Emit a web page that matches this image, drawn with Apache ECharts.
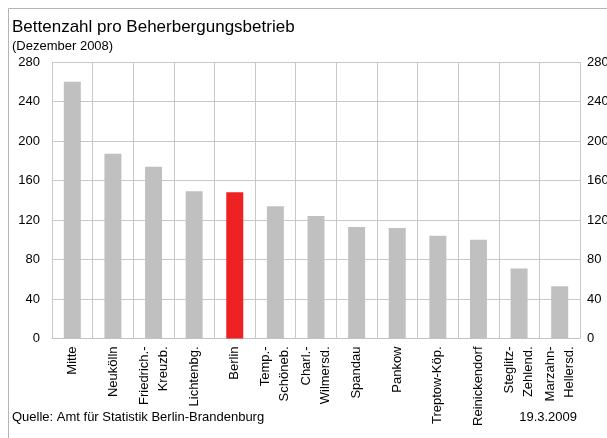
<!DOCTYPE html>
<html>
<head>
<meta charset="utf-8">
<script src="https://cdn.jsdelivr.net/npm/echarts@6/dist/echarts.min.js"></script>
<style>html,body{margin:0;padding:0;background:#fff}#c{width:607px;height:438px}</style>
</head>
<body>
<div id="c"></div>
<script>
var categories = ['Mitte','Neukölln','Friedrich.-\nKreuzb.','Lichtenbg.','Berlin','Temp.-\nSchöneb.','Charl.-\nWilmersd.','Spandau','Pankow','Treptow-Köp.','Reinickendorf','Steglitz-\nZehlend.','Marzahn-\nHellersd.'];
var values = [260,187,174,149,148,134,124,113,112,104,100,71,53];
var highlight = 'Berlin';
var yTicks = [0,40,80,120,160,200,240,280];

var chart = echarts.init(document.getElementById('c'), null, {renderer:'canvas'});
var font = 'Liberation Sans, Arial, sans-serif';
chart.setOption({
  animation:false,
  backgroundColor:'#fff',
  title:[
    {text:'Bettenzahl pro Beherbergungsbetrieb', left:7, top:14, textStyle:{fontFamily:font,fontSize:17,fontWeight:'normal',color:'#000'}},
    {text:'(Dezember 2008)', left:7, top:35, textStyle:{fontFamily:font,fontSize:13,fontWeight:'normal',color:'#000'}},
    {text:'Quelle: Amt für Statistik Berlin-Brandenburg', left:7, top:406, textStyle:{fontFamily:font,fontSize:13,fontWeight:'normal',color:'#000'}},
    {text:'19.3.2009', right:25, top:406, textStyle:{fontFamily:font,fontSize:13,fontWeight:'normal',color:'#000'}}
  ],
  graphic:[
    {type:'line', shape:{x1:8.5,y1:8.5,x2:620,y2:8.5}, style:{stroke:'#b4b4b4',lineWidth:1}},
    {type:'line', shape:{x1:8.5,y1:8.5,x2:8.5,y2:450}, style:{stroke:'#b4b4b4',lineWidth:1}}
  ],
  grid:{left:52, right:27, top:62, bottom:99.5, containLabel:false, outerBoundsMode:'none'},
  xAxis:{
    type:'category', data:categories,
    axisLine:{show:true, lineStyle:{color:'#c4c4c4', width:1}},
    axisTick:{show:false},
    splitLine:{show:true, interval:0, lineStyle:{color:'#c8c8c8', width:1}},
    axisLabel:{interval:0, rotate:90, margin:8, fontFamily:font, fontSize:13, color:'#000', lineHeight:19}
  },
  yAxis:[
    {type:'value', min:0, max:280, interval:40, position:'left',
     axisLine:{show:false}, axisTick:{show:false},
     splitLine:{show:true, lineStyle:{color:'#c8c8c8', width:1}},
     axisLabel:{margin:12, fontFamily:font, fontSize:13, color:'#000',
       formatter:function(v){return yTicks.indexOf(v)>=0?String(v):'';}}},
    {type:'value', min:0, max:280, interval:40, position:'right',
     axisLine:{show:false}, axisTick:{show:false}, splitLine:{show:false},
     axisLabel:{margin:7, fontFamily:font, fontSize:13, color:'#000',
       formatter:function(v){return yTicks.indexOf(v)>=0?String(v):'';}}}
  ],
  series:[{
    type:'bar', barWidth:17, yAxisIndex:0,
    data:values.map(function(v,i){
      return {value:v, itemStyle:{color: categories[i]===highlight ? '#ee2222' : '#c0c0c0'}};
    })
  }]
});
</script>
</body>
</html>
